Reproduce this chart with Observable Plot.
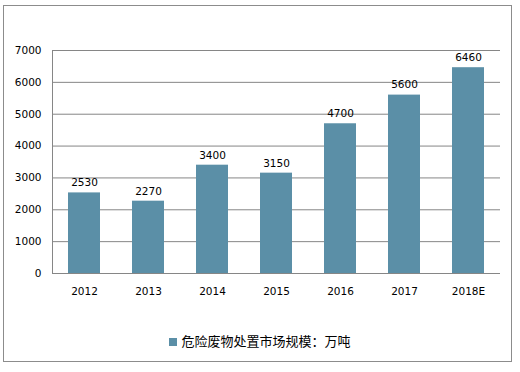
<!DOCTYPE html>
<html><head><meta charset="utf-8">
<script src="https://cdn.jsdelivr.net/npm/d3@7"></script>
<script src="https://cdn.jsdelivr.net/npm/@observablehq/plot@0.6"></script>
<style>
body{margin:0;background:#fff;}
#wrap{position:relative;width:520px;height:372px;overflow:hidden;}
#frame{position:absolute;left:3px;top:5px;width:509px;height:357px;border:1px solid #8c8c8c;box-sizing:border-box;pointer-events:none;}
#chart{position:absolute;left:0;top:0;}
#legend{position:absolute;left:0;top:331px;width:520px;text-align:center;font:13px "Noto Sans CJK SC",sans-serif;color:#000;}
#legend .sw{display:inline-block;width:8px;height:8px;background:#5b8fa7;margin-right:4px;vertical-align:0px;}
</style></head>
<body><div id="wrap"><div id="chart"></div><div id="frame"></div><div id="legend"><span class="sw"></span>危险废物处置市场规模：万吨</div></div>
<script>
const years = ["2012","2013","2014","2015","2016","2017","2018E"];
const values = [2530,2270,3400,3150,4700,5600,6460];
const yTicks = [0,1000,2000,3000,4000,5000,6000,7000];
const data = years.map((y,i)=>({year:y, value:values[i]}));
const chart = Plot.plot({
  width:520, height:310,
  marginTop:50, marginBottom:37, marginLeft:52, marginRight:20,
  style:{fontFamily:"DejaVu Sans, sans-serif", fontSize:"10.5px", color:"#000", background:"transparent"},
  x:{domain:years, paddingInner:0.5, paddingOuter:0.25, align:0.5, label:null, tickSize:0, tickPadding:14},
  y:{domain:[0,7000], ticks:yTicks, tickFormat:d=>String(d), label:null, tickSize:0, tickPadding:11},
  marks:[
    Plot.gridY(yTicks.filter(d=>d>0), {stroke:"#868686", strokeOpacity:1}),
    Plot.barY(data, {x:"year", y:"value", fill:"#5b8fa7"}),
    Plot.ruleY([0], {stroke:"#868686"}),
    Plot.frame({anchor:"left", stroke:"#868686"}),
    Plot.text(data, {x:"year", y:"value", text:d=>String(d.value), dy:-10, fill:"#000", fontSize:10.5})
  ]
});
document.getElementById("chart").appendChild(chart);
</script></body></html>
